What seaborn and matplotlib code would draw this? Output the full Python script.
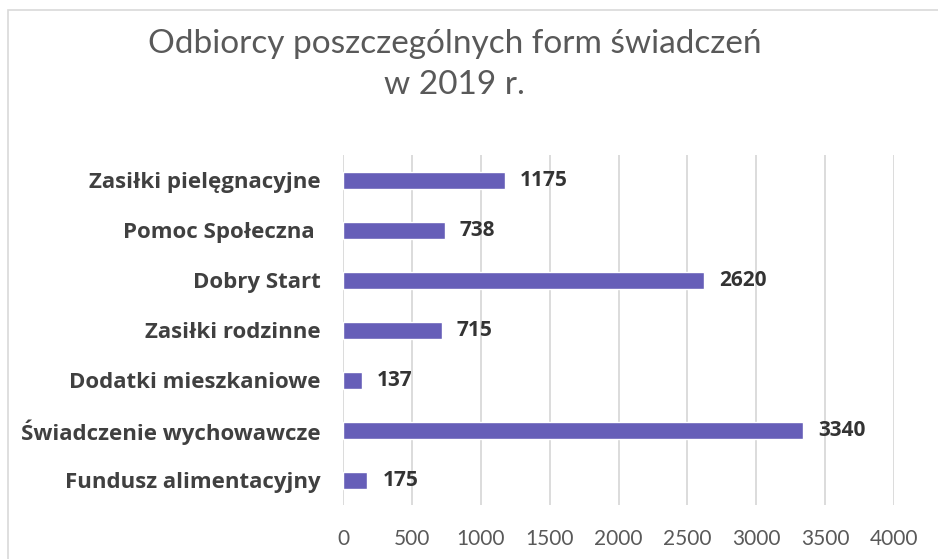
import matplotlib
matplotlib.use("Agg")
import matplotlib.pyplot as plt
import seaborn as sns
import pandas as pd
from matplotlib.patches import Rectangle

categories = [
    "Zasiłki pielęgnacyjne",
    "Pomoc Społeczna ",
    "Dobry Start",
    "Zasiłki rodzinne",
    "Dodatki mieszkaniowe",
    "Świadczenie wychowawcze",
    "Fundusz alimentacyjny",
]
values = [1175, 738, 2620, 715, 137, 3340, 175]
xticks = [0, 500, 1000, 1500, 2000, 2500, 3000, 3500, 4000]

df = pd.DataFrame({"kategoria": categories, "liczba": values})

sns.set_style("white")
plt.rcParams["font.family"] = ["Open Sans", "DejaVu Sans"]

fig = plt.figure(figsize=(9.38, 5.59), dpi=100)
ax = fig.add_axes([0.3657, 0.0966, 0.5874, 0.6261])

sns.barplot(data=df, x="liczba", y="kategoria", orient="h", color="#665EB8",
            saturation=1, width=0.34, ax=ax)

ax.set_xlim(0, 4000)
ax.set_xticks(xticks)
ax.grid(axis="x", color="#D9D9D9", linewidth=1.3)
ax.set_axisbelow(True)
for s in ax.spines.values():
    s.set_visible(False)
ax.set_xlabel("")
ax.set_ylabel("")
ax.tick_params(axis="x", length=0, pad=17, labelsize=13, labelcolor="#595959")
ax.tick_params(axis="y", length=0, pad=16, labelsize=16)
for lab in ax.get_xticklabels():
    lab.set_fontfamily(["Lato", "DejaVu Sans"])
    lab.set_fontsize(15)
for lab in ax.get_yticklabels():
    lab.set_fontweight("bold")
    lab.set_color("#404040")

for i, v in enumerate(values):
    ax.annotate(str(v), (v, i), xytext=(11, 0), textcoords="offset points",
                va="center", ha="left", fontsize=15, fontweight="bold", color="#333333")

fig.text(0.485, 0.885, "Odbiorcy poszczególnych form świadczeń\nw 2019 r.",
         ha="center", va="center", fontsize=24, color="#595959",
         family=["Lato", "DejaVu Sans"], linespacing=1.45)

fig.patches.append(Rectangle((8 / 938, -0.1), 1.1, 1 - 10 / 559 + 0.1,
                             transform=fig.transFigure, fill=False,
                             edgecolor="#D9D9D9", linewidth=1.2))

fig.savefig("out.png", dpi=100)
